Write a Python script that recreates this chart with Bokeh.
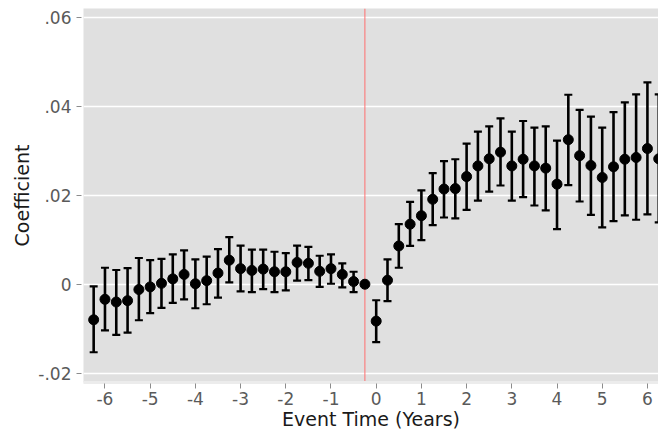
from bokeh.plotting import figure
from bokeh.models import ColumnDataSource, FixedTicker, Span, Range1d
from bokeh.embed import file_html
from bokeh.resources import INLINE

nan = float("nan")

# Event time in years (quarterly), relative to the event
event_time = [-6.25, -6.0, -5.75, -5.5, -5.25, -5.0, -4.75, -4.5, -4.25, -4.0,
              -3.75, -3.5, -3.25, -3.0, -2.75, -2.5, -2.25, -2.0, -1.75, -1.5,
              -1.25, -1.0, -0.75, -0.5, -0.25,
              0.0, 0.25, 0.5, 0.75, 1.0, 1.25, 1.5, 1.75, 2.0, 2.25,
              2.5, 2.75, 3.0, 3.25, 3.5, 3.75, 4.0, 4.25, 4.5, 4.75,
              5.0, 5.25, 5.5, 5.75, 6.0, 6.25]

coef = [-0.0080, -0.0034, -0.0040, -0.0037, -0.0012, -0.0006, 0.0002, 0.0012, 0.0022, 0.0001,
        0.0008, 0.0025, 0.0054, 0.0035, 0.0031, 0.0034, 0.0028, 0.0028, 0.0049, 0.0047,
        0.0029, 0.0035, 0.0022, 0.0006, 0.0,
        -0.0083, 0.0009, 0.0086, 0.0135, 0.0154, 0.0191, 0.0214, 0.0215, 0.0242, 0.0266,
        0.0282, 0.0297, 0.0266, 0.0281, 0.0266, 0.0261, 0.0225, 0.0325, 0.0289, 0.0267,
        0.0240, 0.0264, 0.0281, 0.0285, 0.0305, 0.0282]

ci_upper = [-0.0005, 0.0037, 0.0032, 0.0036, 0.0059, 0.0054, 0.0057, 0.0067, 0.0076, 0.0056,
            0.0062, 0.0079, 0.0106, 0.0087, 0.0078, 0.0078, 0.0073, 0.0070, 0.0087, 0.0084,
            0.0064, 0.0067, 0.0047, 0.0028, nan,
            -0.0036, 0.0056, 0.0135, 0.0185, 0.0211, 0.0250, 0.0277, 0.0281, 0.0316, 0.0343,
            0.0355, 0.0373, 0.0343, 0.0367, 0.0352, 0.0355, 0.0323, 0.0426, 0.0392, 0.0377,
            0.0352, 0.0387, 0.0409, 0.0427, 0.0454, 0.0427]

ci_lower = [-0.0153, -0.0104, -0.0114, -0.0109, -0.0081, -0.0065, -0.0053, -0.0042, -0.0034, -0.0054,
            -0.0045, -0.0030, 0.0004, -0.0016, -0.0018, -0.0011, -0.0018, -0.0014, 0.0008, 0.0009,
            -0.0006, 0.0001, -0.0007, -0.0018, nan,
            -0.0130, -0.0038, 0.0037, 0.0086, 0.0099, 0.0133, 0.0150, 0.0148, 0.0167, 0.0188,
            0.0208, 0.0222, 0.0188, 0.0196, 0.0177, 0.0166, 0.0124, 0.0223, 0.0186, 0.0156,
            0.0128, 0.0142, 0.0155, 0.0145, 0.0157, 0.0139]

# Reference period (omitted coefficient)
event_line = -0.25

x_ticks = [-6, -5, -4, -3, -2, -1, 0, 1, 2, 3, 4, 5, 6]
x_tick_labels = ["-6", "-5", "-4", "-3", "-2", "-1", "0", "1", "2", "3", "4", "5", "6"]
y_ticks = [-0.02, 0.0, 0.02, 0.04, 0.06]
y_tick_labels = ["-.02", "0", ".02", ".04", ".06"]

source = ColumnDataSource(data=dict(x=event_time, coef=coef, lo=ci_lower, hi=ci_upper))

FONT = "DejaVu Sans"

p = figure(width=658, height=432, output_backend="svg", toolbar_location=None,
           x_range=Range1d(-6.475, 6.245), y_range=Range1d(-0.0221, 0.0620),
           min_border_left=83, min_border_right=0, min_border_top=8, min_border_bottom=49)

p.background_fill_color = "#e0e0e0"
p.border_fill_color = "white"
p.outline_line_color = None

# Grid: horizontal white lines only
p.xgrid.grid_line_color = None
p.ygrid.grid_line_color = "white"
p.ygrid.grid_line_width = 1.5

# Axes
p.xaxis.ticker = FixedTicker(ticks=x_ticks)
p.xaxis.major_label_overrides = {t: s for t, s in zip(x_ticks, x_tick_labels)}
p.yaxis.ticker = FixedTicker(ticks=y_ticks)
p.yaxis.major_label_overrides = {t: s for t, s in zip(y_ticks, y_tick_labels)}

for ax in (p.xaxis[0], p.yaxis[0]):
    ax.minor_tick_line_color = None
    ax.major_tick_line_color = "#8c8c8c"
    ax.major_tick_line_width = 1
    ax.major_label_text_font = FONT
    ax.major_label_text_font_size = "17px"
    ax.major_label_text_color = "#5a5a5a"
    ax.axis_label_text_font = FONT
    ax.axis_label_text_font_size = "19px"
    ax.axis_label_text_font_style = "normal"
    ax.axis_label_text_color = "#1a1a1a"

p.xaxis.axis_label = "Event Time (Years)"
p.xaxis.axis_line_color = "#ececec"
p.xaxis.axis_line_width = 3
p.xaxis.major_tick_in = -1
p.xaxis.major_tick_out = 6
p.xaxis.major_label_standoff = 3
p.xaxis.axis_label_standoff = 0

p.yaxis.axis_label = "Coefficient"
p.yaxis.axis_line_color = None
p.yaxis.major_tick_in = -2
p.yaxis.major_tick_out = 7
p.yaxis.major_label_standoff = 5
p.yaxis.axis_label_standoff = 2

# Event marker
vline = Span(location=event_line, dimension="height", line_color="#ff6f6f",
             line_width=1, level="underlay")
p.add_layout(vline)

# Confidence intervals: stems and caps
p.segment(x0="x", y0="lo", x1="x", y1="hi", source=source,
          line_color="black", line_width=2.6)
p.scatter(x="x", y="hi", source=source, marker="dash", size=8,
          line_color="black", line_width=2.2)
p.scatter(x="x", y="lo", source=source, marker="dash", size=8,
          line_color="black", line_width=2.2)

# Point estimates
p.scatter(x="x", y="coef", source=source, marker="circle", size=10,
          fill_color="black", line_color="black")

open("out.html", "w").write(file_html(p, INLINE))
